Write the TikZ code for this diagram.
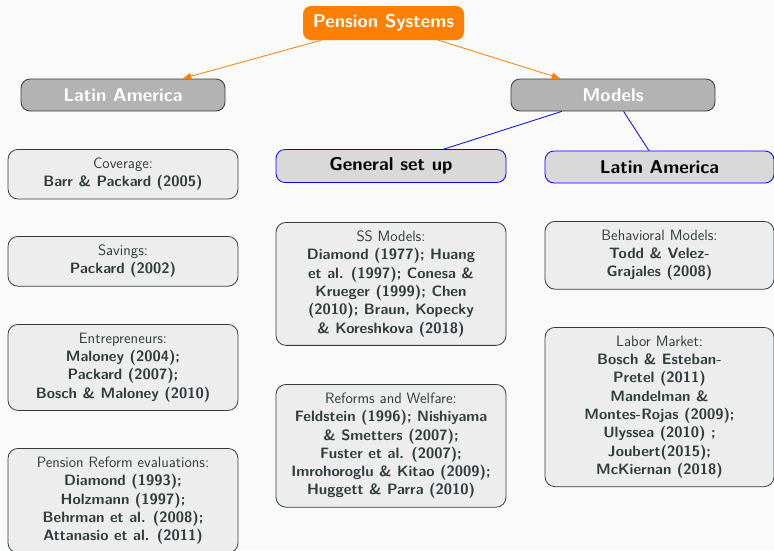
\documentclass[tikz,border=0pt]{standalone}
\usepackage{tikz}
\usetikzlibrary{arrows.meta}

\definecolor{bgcol}{HTML}{FAFAFA}
\definecolor{rootorange}{HTML}{FF8000}
\definecolor{slate}{HTML}{2F3D3D}
\definecolor{branchgray}{HTML}{B3B3B3}
\definecolor{topicgray}{HTML}{D9D9D9}
\definecolor{leafgray}{HTML}{EDEDED}

\begin{document}
\begin{tikzpicture}[x=1pt, y=-1pt, font=\sffamily, >={Latex[length=9pt, width=7pt]},
		root/.style={fill=rootorange, text=white, rounded corners=8pt,
			minimum width=161pt, minimum height=34pt,
			font=\sffamily\bfseries\fontsize{18.5}{21}\selectfont},
		branch/.style={draw=slate, line width=0.8pt, fill=branchgray, text=white, rounded corners=9pt,
			minimum width=204pt, minimum height=32pt,
			font=\sffamily\bfseries\fontsize{18.5}{21}\selectfont},
		topic/.style={draw=blue, line width=0.8pt, fill=topicgray, text=black, rounded corners=9pt,
			minimum width=230pt, minimum height=33pt,
			font=\sffamily\bfseries\fontsize{18.5}{21}\selectfont},
		leaf/.style={draw=slate, line width=0.8pt, fill=leafgray, text=slate, rounded corners=10pt,
			minimum width=230pt, align=center, inner ysep=8.5pt, anchor=north,
			font=\sffamily\fontsize{15}{18.3}\selectfont},
		tree/.style={rootorange, line width=0.8pt, ->},
		link/.style={blue, line width=0.8pt}]
		\useasboundingbox[fill=bgcol] (0,0) rectangle (774,550);

		% top of the tree
		\node[root] (pension) at (383.5,23) {Pension Systems};
		\node[branch] (latam) at (123,95) {Latin America};
		\node[branch] (models) at (613,95) {Models};
		\node[topic] (setup) at (391,166) {General set up};
		\node[topic, minimum width=229pt, minimum height=32pt] (latmod) at (659.5,167) {Latin America};

		\draw[tree] (pension) -- (latam);
		\draw[tree] (pension) -- (models);
		\draw[link] (models) -- (setup);
		\draw[link] (models) -- (latmod);

		% left column
		\node[leaf] (coverage) at (123,149) {Coverage:\\ \textbf{Barr \& Packard (2005)}};
		\node[leaf] (savings) at (123,236) {Savings:\\ \textbf{Packard (2002)}};
		\node[leaf] (entre) at (123,324) {Entrepreneurs:\\ \textbf{Maloney (2004);}\\ \textbf{Packard (2007);}\\ \textbf{Bosch \& Maloney (2010)}};
		\node[leaf] (reform) at (123,448) {Pension Reform evaluations:\\ \textbf{Diamond (1993);}\\ \textbf{Holzmann (1997);}\\ \textbf{Behrman et al. (2008);}\\ \textbf{Attanasio et al. (2011)}};

		% middle column
		\node[leaf] (ssmod) at (391,222) {SS Models:\\ \textbf{Diamond (1977); Huang}\\ \textbf{et al. (1997); Conesa \&}\\ \textbf{Krueger (1999); Chen}\\ \textbf{(2010); Braun, Kopecky}\\ \textbf{\& Koreshkova (2018)}};
		\node[leaf] (welfare) at (391,384) {Reforms and Welfare:\\ \textbf{Feldstein (1996); Nishiyama}\\ \textbf{\& Smetters (2007);}\\ \textbf{Fuster et al. (2007);}\\ \textbf{Imrohoroglu \& Kitao (2009);}\\ \textbf{Huggett \& Parra (2010)}};

		% right column
		\node[leaf, minimum width=229pt] (behav) at (659.5,221) {Behavioral Models:\\ \textbf{Todd \& Velez-}\\ \textbf{Grajales (2008)}};
		\node[leaf, minimum width=229pt] (labor) at (659.5,327) {Labor Market:\\ \textbf{Bosch \& Esteban-}\\ \textbf{Pretel (2011)}\\ \textbf{Mandelman \&}\\ \textbf{Montes-Rojas (2009);}\\ \textbf{Ulyssea (2010) ;}\\ \textbf{Joubert(2015);}\\ \textbf{McKiernan (2018)}};
	\end{tikzpicture}
\end{document}
